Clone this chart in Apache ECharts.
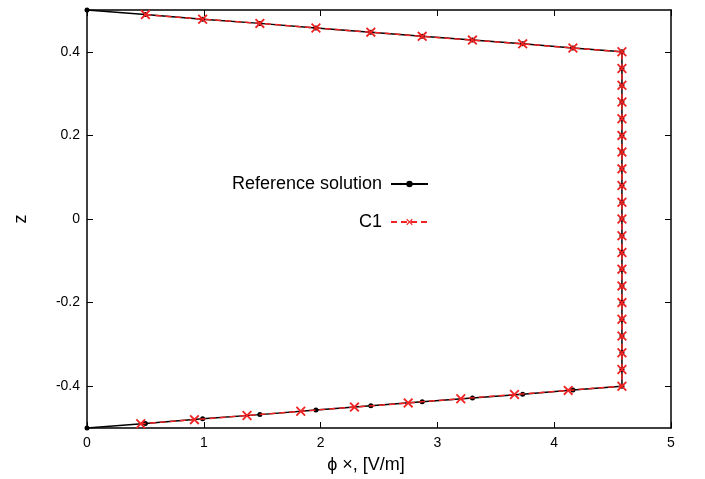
<!DOCTYPE html>
<html>
<head>
<meta charset="utf-8">
<script src="https://cdn.jsdelivr.net/npm/echarts@6/dist/echarts.min.js"></script>
<style>html,body{margin:0;padding:0;background:#fff}#c{width:705px;height:479px}</style>
</head>
<body>
<div id="c"></div>
<script>
// Reference solution (black line with dots)
const refX = [0, 0.50, 0.99, 1.48, 1.96, 2.43, 2.87, 3.30, 3.73, 4.16, 4.58,
  4.58, 4.58, 4.58, 4.58, 4.58, 4.58, 4.58, 4.58, 4.58, 4.58, 4.58, 4.58, 4.58, 4.58, 4.58, 4.58, 4.58, 4.58, 4.58, 4.58,
  4.16, 3.73, 3.30, 2.87, 2.43, 1.96, 1.48, 0.99, 0.50, 0];
const refZ = [0.5, 0.489, 0.478, 0.468, 0.457, 0.447, 0.437, 0.428, 0.419, 0.409, 0.400,
  0.36, 0.32, 0.28, 0.24, 0.20, 0.16, 0.12, 0.08, 0.04, 0, -0.04, -0.08, -0.12, -0.16, -0.20, -0.24, -0.28, -0.32, -0.36, -0.40,
  -0.409, -0.419, -0.428, -0.437, -0.447, -0.457, -0.468, -0.478, -0.489, -0.5];
// C1 (red dashed with crosses)
const c1X = [0.50, 0.99, 1.48, 1.96, 2.43, 2.87, 3.30, 3.73, 4.16, 4.58,
  4.58, 4.58, 4.58, 4.58, 4.58, 4.58, 4.58, 4.58, 4.58, 4.58, 4.58, 4.58, 4.58, 4.58, 4.58, 4.58, 4.58, 4.58, 4.58, 4.58,
  4.12, 3.66, 3.20, 2.75, 2.29, 1.83, 1.37, 0.92, 0.46];
const c1Z = [0.489, 0.478, 0.468, 0.457, 0.447, 0.437, 0.428, 0.419, 0.409, 0.400,
  0.36, 0.32, 0.28, 0.24, 0.20, 0.16, 0.12, 0.08, 0.04, 0, -0.04, -0.08, -0.12, -0.16, -0.20, -0.24, -0.28, -0.32, -0.36, -0.40,
  -0.41, -0.42, -0.43, -0.44, -0.45, -0.46, -0.47, -0.48, -0.49];
const xTicks = [0, 1, 2, 3, 4, 5];
const zTicks = [-0.4, -0.2, 0, 0.2, 0.4];

const refData = refX.map((x, i) => [x, refZ[i]]);
const c1Data = c1X.map((x, i) => [x, c1Z[i]]);

const FONT = 'Liberation Sans, Arial, Helvetica, sans-serif';
const crossPath = 'path://M0,1.3L1.3,0L5,3.7L8.7,0L10,1.3L6.3,5L10,8.7L8.7,10L5,6.3L1.3,10L0,8.7L3.7,5Z';
const RED = '#f02424';

const chart = echarts.init(document.getElementById('c'), null, {renderer: 'canvas'});
const axisCommon = {
  axisLine: {show: true, onZero: false, lineStyle: {color: '#000', width: 1.5}},
  axisTick: {show: true, inside: true, length: 6, lineStyle: {color: '#000', width: 1}},
  splitLine: {show: false}
};
chart.setOption({
  animation: false,
  backgroundColor: '#fff',
  grid: {left: 87, right: 34, top: 10, bottom: 49},
  legend: {
    orient: 'vertical',
    right: 271,
    top: 170,
    align: 'right',
    itemWidth: 37,
    itemHeight: 8,
    itemGap: 20,
    textStyle: {fontFamily: FONT, fontSize: 18, color: '#000', padding: [0, 4, 0, 0]},
    data: ['Reference solution', 'C1']
  },
  xAxis: [
    Object.assign({}, axisCommon, {
      type: 'value', min: 0, max: 5, interval: 1, position: 'bottom',
      name: 'ϕ ×, [V/m]', nameLocation: 'middle', nameGap: 28,
      nameTextStyle: {fontFamily: FONT, fontSize: 18, color: '#000', padding: [0, 26, 0, 0]},
      axisTick: Object.assign({}, axisCommon.axisTick, {customValues: xTicks}),
      axisLabel: {customValues: xTicks, margin: 8, fontFamily: FONT, fontSize: 14, color: '#000'}
    }),
    Object.assign({}, axisCommon, {
      type: 'value', min: 0, max: 5, interval: 1, position: 'top',
      axisTick: Object.assign({}, axisCommon.axisTick, {customValues: xTicks}),
      axisLabel: {show: false}
    })
  ],
  yAxis: [
    Object.assign({}, axisCommon, {
      type: 'value', min: -0.5, max: 0.5, interval: 0.1, position: 'left',
      name: 'z', nameLocation: 'middle', nameGap: 57,
      nameTextStyle: {fontFamily: FONT, fontSize: 18, color: '#000'},
      axisTick: Object.assign({}, axisCommon.axisTick, {customValues: zTicks}),
      axisLabel: {customValues: zTicks, margin: 7, fontFamily: FONT, fontSize: 14, color: '#000',
        formatter: v => String(Math.round(v * 10) / 10)}
    }),
    Object.assign({}, axisCommon, {
      type: 'value', min: -0.5, max: 0.5, interval: 0.1, position: 'right',
      axisTick: Object.assign({}, axisCommon.axisTick, {customValues: zTicks}),
      axisLabel: {show: false}
    })
  ],
  series: [
    {
      name: 'Reference solution', type: 'line', data: refData,
      xAxisIndex: 0, yAxisIndex: 0,
      symbol: 'circle', symbolSize: 5, showAllSymbol: true,
      lineStyle: {color: '#000', width: 1.5},
      itemStyle: {color: '#000'},
      z: 2
    },
    {
      name: 'C1', type: 'line', data: c1Data,
      xAxisIndex: 0, yAxisIndex: 0,
      symbol: crossPath, symbolSize: 10, showAllSymbol: true,
      lineStyle: {color: RED, width: 1.5, type: [6, 4]},
      itemStyle: {color: RED},
      z: 3
    }
  ]
});
</script>
</body>
</html>
